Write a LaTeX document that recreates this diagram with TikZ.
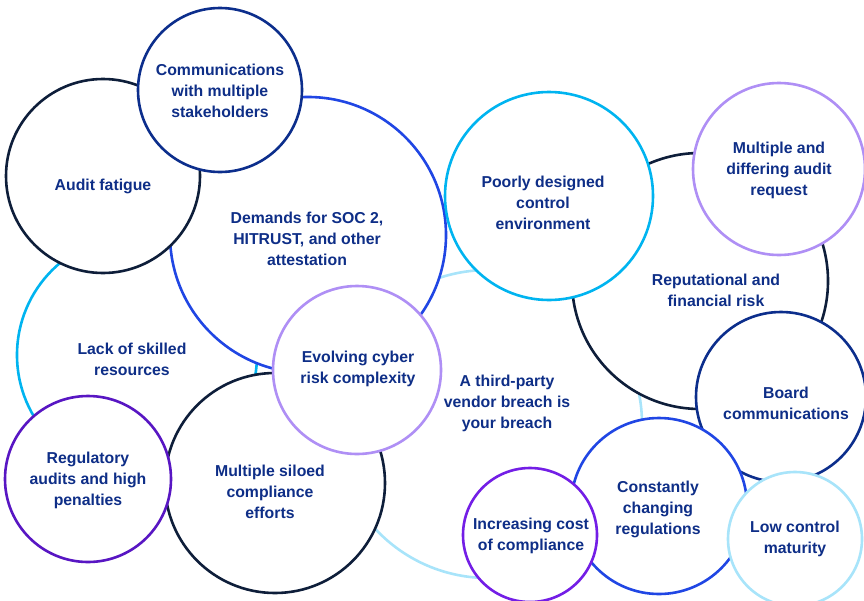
\documentclass[tikz,border=0pt]{standalone}
\usepackage{fontspec}
\setmainfont{Liberation Sans}
\definecolor{txtblue}{RGB}{14,46,135}
\definecolor{navy}{RGB}{12,46,140}
\definecolor{ink}{RGB}{14,30,58}
\definecolor{royal}{RGB}{32,70,228}
\definecolor{cyanb}{RGB}{0,180,240}
\definecolor{pale}{RGB}{168,228,250}
\definecolor{lav}{RGB}{175,143,245}
\definecolor{violet}{RGB}{88,22,195}
\definecolor{violetb}{RGB}{115,30,230}
\tikzset{
  bubble/.style={circle, draw=#1, fill=white, line width=2.6pt, inner sep=0pt},
  txt/.style={text=txtblue, font=\bfseries\fontsize{15.8}{21}\selectfont, align=center, inner sep=0pt}
}
\begin{document}
\begin{tikzpicture}[x=1pt,y=-1pt]
\useasboundingbox (0,0) rectangle (864,600);
\clip (0,0) rectangle (864,600);
% bottom layer
\node[bubble=pale, minimum size=308pt] (vendor) at (488,424) {};
\node[txt] (vendort) at (507,403) {A third-party\\vendor breach is\\your breach};
\node[bubble=cyanb, minimum size=240pt] (lack) at (137,355) {};
\node[txt] (lackt) at (132,359) {Lack of skilled\\resources};
\node[bubble=royal, minimum size=276pt] (soc) at (308,235) {};
\node[txt] (soct) at (307,239) {Demands for SOC 2,\\HITRUST, and other\\attestation};
\node[bubble=ink, minimum size=194pt] (fatigue) at (103,176) {};
\node[txt] (fatiguet) at (103,186) {Audit fatigue};
\node[bubble=navy, minimum size=164pt] (comm) at (220,90) {};
\node[txt] (commt) at (220,91) {Communications\\with multiple\\stakeholders};
\node[bubble=ink, minimum size=220pt] (siloed) at (275,483) {};
\node[txt] (siloedt) at (270,492) {Multiple siloed\\compliance\\efforts};
\node[bubble=violet, minimum size=166pt] (reg) at (88,479) {};
\node[txt] (regt) at (88,480) {Regulatory\\audits and high\\penalties};
\node[bubble=lav, minimum size=168pt] (cyber) at (357,370) {};
\node[txt] (cybert) at (358,369) {Evolving cyber\\risk complexity};
\node[bubble=ink, minimum size=256pt] (repu) at (700,281) {};
\node[txt] (reput) at (716,290) {Reputational and\\financial risk};
\node[bubble=cyanb, minimum size=208pt] (poor) at (549,196) {};
\node[txt] (poort) at (543,203) {Poorly designed\\control\\environment};
\node[bubble=lav, minimum size=172pt] (multi) at (779,169) {};
\node[txt] (multit) at (779,170) {Multiple and\\differing audit\\request};
\node[bubble=navy, minimum size=170pt] (board) at (781,397) {};
\node[txt] (boardt) at (786,403) {Board\\communications};
\node[bubble=royal, minimum size=176pt] (change) at (659,506) {};
\node[txt] (changet) at (658,509) {Constantly\\changing\\regulations};
\node[bubble=violetb, minimum size=134pt] (cost) at (530,535) {};
\node[txt] (costt) at (531,536) {Increasing cost\\of compliance};
\node[bubble=pale, minimum size=134pt] (low) at (795,539) {};
\node[txt] (lowt) at (795,539) {Low control\\maturity};
\end{tikzpicture}
\end{document}
